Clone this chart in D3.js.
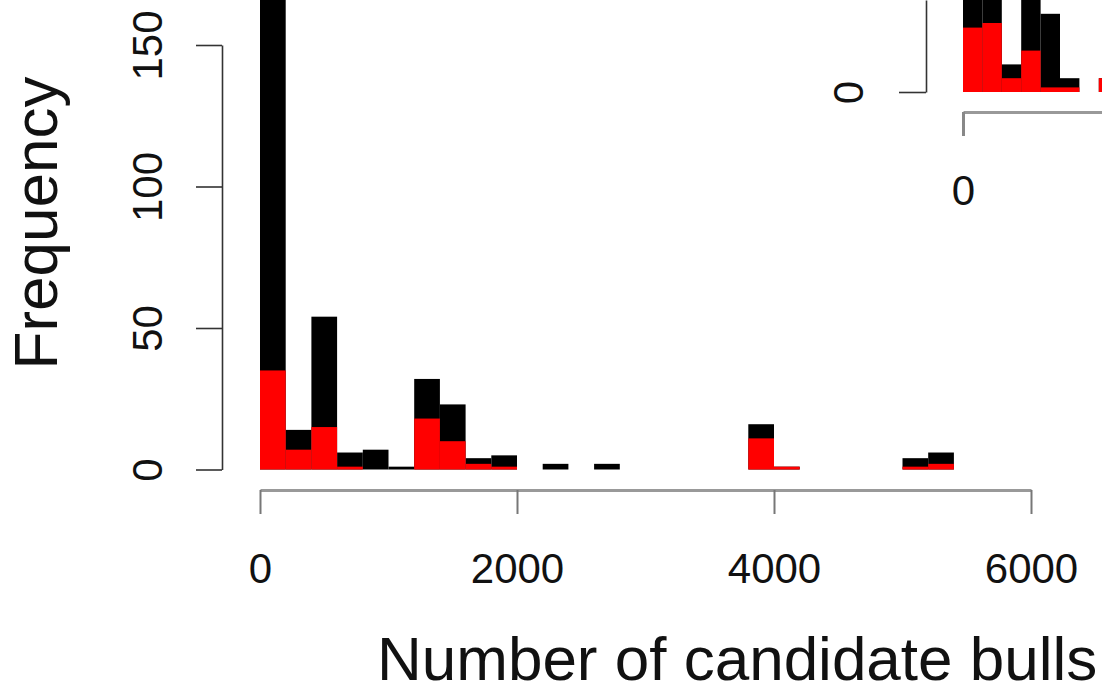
<!DOCTYPE html>
<html>
<head>
<meta charset="utf-8">
<script src="https://cdn.jsdelivr.net/npm/d3@7"></script>
<style>
  body { margin: 0; background: #fff; }
  svg { display: block; font-family: "Liberation Sans", Arial, sans-serif; }
</style>
</head>
<body>
<div id="chart"></div>
<script>
// main histogram: bins of 200 bulls, black = all, red = subset drawn on top
const binStarts = [0, 200, 400, 600, 800, 1000, 1200, 1400, 1600, 1800, 2000, 2200, 2400, 2600,
  2800, 3000, 3200, 3400, 3600, 3800, 4000, 4200, 4400, 4600, 4800, 5000, 5200];
const binWidth = 200;
const totalCounts = [190, 14, 54, 6, 7, 1, 32, 23, 4, 5, 0, 2, 0, 2, 0, 0, 0, 0, 0, 16, 1, 0, 0, 0, 0, 4, 6];
const redCounts = [35, 7, 15, 1, 0, 0, 18, 10, 2, 1, 0, 0, 0, 0, 0, 0, 0, 0, 0, 11, 1, 0, 0, 0, 0, 1, 2];
const xTicks = [0, 2000, 4000, 6000];
const yTicks = [0, 50, 100, 150];

// inset (partly cropped out of the picture)
const insetStarts = [0, 20, 40, 60, 80, 100, 120, 140];
const insetWidth = 20;
const insetTotal = [25, 25, 6, 25, 17, 3, 0, 3];
const insetRed = [14, 15, 3, 9, 1, 1, 0, 3];

const width = 1102, height = 692;
const svg = d3.select("#chart").append("svg").attr("width", width).attr("height", height);
svg.append("rect").attr("width", width).attr("height", height).attr("fill", "#fff");

const x = d3.scaleLinear().domain([0, 6000]).range([260, 1031]);
const y = d3.scaleLinear().domain([0, 150]).range([469.5, 45]);

function drawBars(g, starts, w, counts, color, xs, ys) {
  g.selectAll(null)
    .data(starts.map((s, i) => ({ s, v: counts[i] })).filter(d => d.v > 0))
    .join("rect")
    .attr("x", d => xs(d.s))
    .attr("width", d => xs(d.s + w) - xs(d.s))
    .attr("y", d => ys(d.v))
    .attr("height", d => ys(0) - ys(d.v))
    .attr("fill", color);
}

const bars = svg.append("g");
drawBars(bars, binStarts, binWidth, totalCounts, "#000", x, y);
drawBars(bars, binStarts, binWidth, redCounts, "#ff0000", x, y);

// x axis (grey)
const xAxis = svg.append("g")
  .attr("transform", "translate(0,490)")
  .call(d3.axisBottom(x).tickValues(xTicks).tickFormat(d3.format("d")).tickSize(24).tickSizeOuter(0).tickPadding(39));
xAxis.select(".domain").attr("stroke", "#999").attr("stroke-width", 3);
xAxis.selectAll(".tick line").attr("stroke", "#777").attr("stroke-width", 2);
xAxis.selectAll("text").attr("font-size", 42).attr("fill", "#111").attr("font-family", null);

// y axis
const yAxis = svg.append("g")
  .attr("transform", "translate(222,0)")
  .call(d3.axisLeft(y).tickValues(yTicks).tickSize(26).tickSizeOuter(0));
yAxis.select(".domain").attr("stroke", "#333").attr("stroke-width", 1.6);
yAxis.selectAll(".tick line").attr("stroke", "#333").attr("stroke-width", 1.6);
yAxis.selectAll("text")
  .attr("x", null).attr("dy", null)
  .attr("transform", "translate(-60,0) rotate(-90)")
  .attr("text-anchor", "middle")
  .attr("font-size", 42).attr("fill", "#111").attr("font-family", null);

// axis titles
svg.append("text")
  .attr("x", 377).attr("y", 680)
  .attr("font-size", 62).attr("fill", "#111")
  .text("Number of candidate bulls");
svg.append("text")
  .attr("transform", "translate(57,223) rotate(-90)")
  .attr("text-anchor", "middle")
  .attr("font-size", 62).attr("fill", "#111")
  .text("Frequency");

// inset
const ix = d3.scaleLinear().domain([0, 200]).range([963, 1157]);
const iy = d3.scaleLinear().domain([0, 20]).range([92, 0]);
const inset = svg.append("g");
drawBars(inset, insetStarts, insetWidth, insetTotal, "#000", ix, iy);
drawBars(inset, insetStarts, insetWidth, insetRed, "#ff0000", ix, iy);

const ixAxis = svg.append("g")
  .attr("transform", "translate(0,112)")
  .call(d3.axisBottom(ix).tickValues([0]).tickSize(24).tickSizeOuter(0).tickPadding(39));
ixAxis.select(".domain").attr("stroke", "#999").attr("stroke-width", 3);
ixAxis.selectAll(".tick line").attr("stroke", "#888").attr("stroke-width", 3);
ixAxis.selectAll("text").attr("font-size", 42).attr("fill", "#111").attr("font-family", null);

const iyAxis = svg.append("g")
  .attr("transform", "translate(926,0)")
  .call(d3.axisLeft(iy).tickValues([0]).tickSize(27).tickSizeOuter(0));
iyAxis.select(".domain").attr("stroke", "#333").attr("stroke-width", 1.6);
iyAxis.selectAll(".tick line").attr("stroke", "#333").attr("stroke-width", 1.6);
iyAxis.selectAll("text")
  .attr("x", null).attr("dy", null)
  .attr("transform", "translate(-63,0) rotate(-90)")
  .attr("text-anchor", "middle")
  .attr("font-size", 42).attr("fill", "#111").attr("font-family", null);
</script>
</body>
</html>
